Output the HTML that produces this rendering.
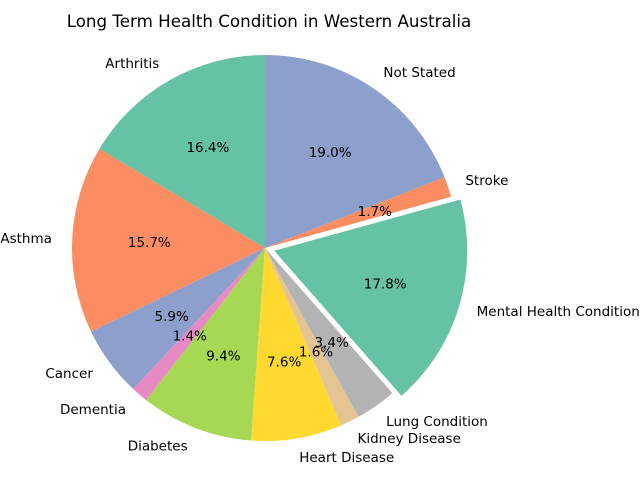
<!DOCTYPE html>
<html><head><meta charset="utf-8"><style>
html,body{margin:0;padding:0;background:#fff}
svg text{font-family:"DejaVu Sans","Liberation Sans",sans-serif}
</style></head><body>
<svg id="chart" width="640" height="480" viewBox="0 0 640 480" xmlns="http://www.w3.org/2000/svg">
<text x="269" y="27" text-anchor="middle" font-size="16.7" fill="#000">Long Term Health Condition in Western Australia</text>
<g id="slices"></g>
<g id="labels"></g>
</svg>
<script>
const categories = ["Arthritis","Asthma","Cancer","Dementia","Diabetes","Heart Disease","Kidney Disease","Lung Condition","Mental Health Condition","Stroke","Not Stated"];
const values = [16.4,15.7,5.9,1.4,9.4,7.6,1.6,3.4,17.8,1.7,19.0];
const explode = [0,0,0,0,0,0,0,0,0.05,0,0];
const colors = ["#66c2a5","#fc8d62","#8da0cb","#e78ac3","#a6d854","#ffd92f","#e5c494","#b3b3b3","#66c2a5","#fc8d62","#8da0cb"];
const cx=265, cy=248, R=193;
const g=document.getElementById('slices');
const gl=document.getElementById('labels');
const NS="http://www.w3.org/2000/svg";
const total=values.reduce((a,b)=>a+b,0);
let a0=90;
values.forEach((v,i)=>{
  const a1=a0+v/total*360, mid=(a0+a1)/2*Math.PI/180;
  const ox=cx+explode[i]*R*Math.cos(mid), oy=cy-explode[i]*R*Math.sin(mid);
  const p=(a)=>[ox+R*Math.cos(a*Math.PI/180), oy-R*Math.sin(a*Math.PI/180)];
  const s=p(a0), e=p(a1);
  const path=document.createElementNS(NS,'path');
  path.setAttribute('d',`M${ox},${oy} L${s[0]},${s[1]} A${R},${R} 0 ${a1-a0>180?1:0} 0 ${e[0]},${e[1]} Z`);
  path.setAttribute('fill',colors[i]);
  
  
  g.appendChild(path);
  const lx=ox+1.1*R*Math.cos(mid), ly=oy-1.1*R*Math.sin(mid);
  const t=document.createElementNS(NS,'text');
  t.setAttribute('x',lx-1); t.setAttribute('y',ly+4.5);
  t.setAttribute('font-size','13.5');
  t.setAttribute('text-anchor',Math.cos(mid)>0?'start':'end');
  t.textContent=categories[i];
  
  
  gl.appendChild(t);
  const px=ox+0.6*R*Math.cos(mid), py=oy-0.6*R*Math.sin(mid);
  const q=document.createElementNS(NS,'text');
  q.setAttribute('x',px); q.setAttribute('y',py+4.5);
  q.setAttribute('font-size','13.5');
  q.setAttribute('text-anchor','middle');
  q.textContent=(v/total*100).toFixed(1)+'%';
  
  
  gl.appendChild(q);
  a0=a1;
});
</script>
</body></html>
